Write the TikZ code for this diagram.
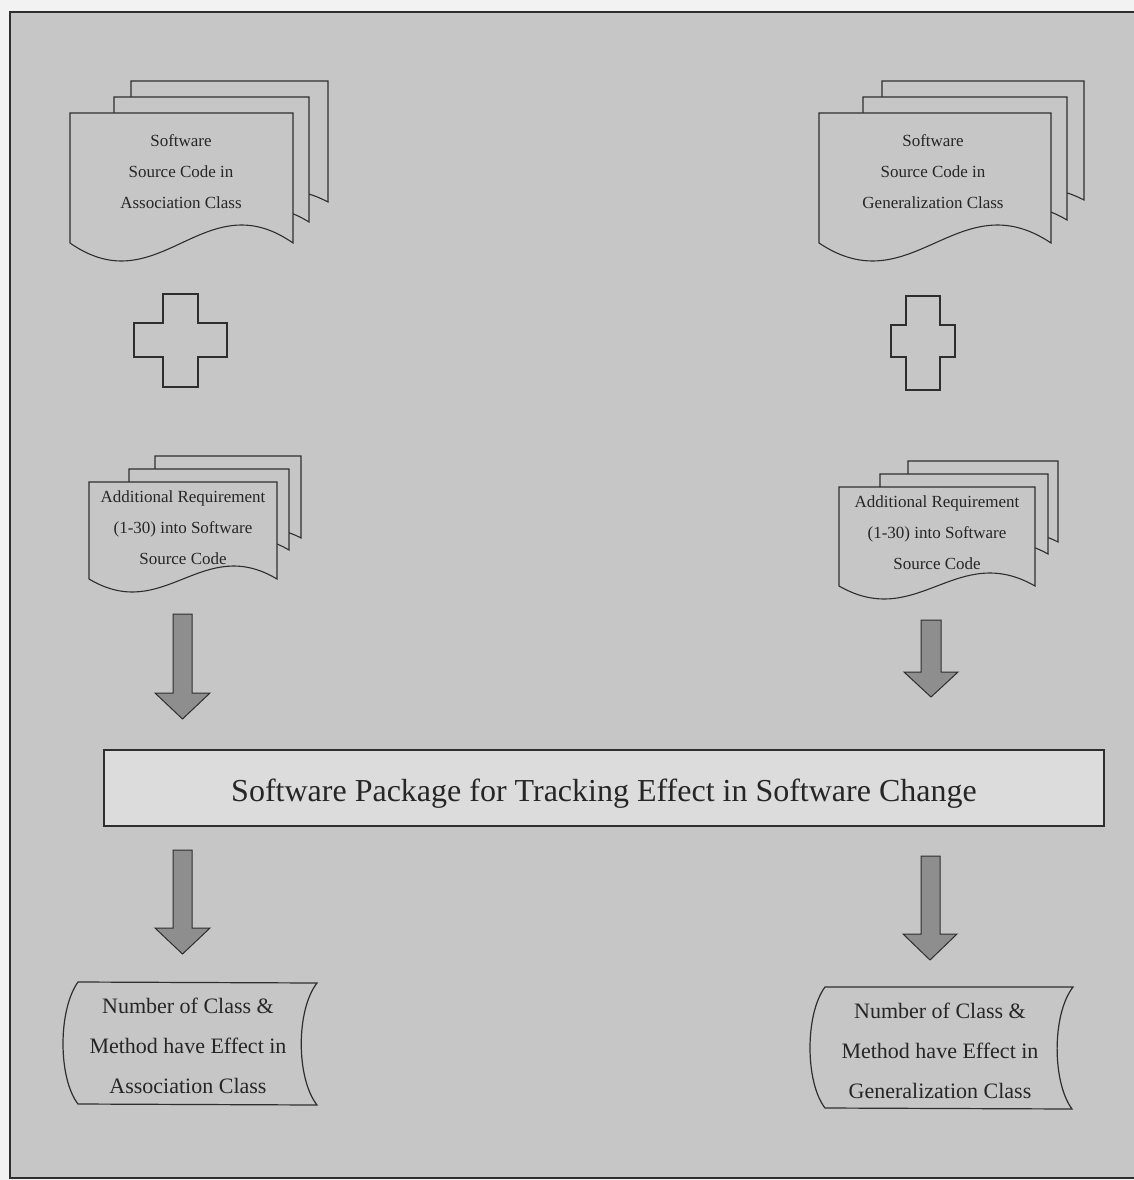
\documentclass[tikz,border=0pt]{standalone}
\usepackage{fontspec}
\setmainfont{Liberation Serif}
\definecolor{bggray}{HTML}{C6C6C6}
\definecolor{boxgray}{HTML}{DCDCDC}
\definecolor{arrgray}{HTML}{8E8E8E}
\definecolor{linegray}{HTML}{2E2E2E}
\tikzset{
  docstyle/.style={fill=bggray, draw=linegray, line width=1.1pt, line join=miter},
  crossstyle/.style={draw=linegray, line width=1.4pt},
  arrstyle/.style={fill=arrgray, draw=linegray, line width=1pt},
  smalltext/.style={align=center, font=\fontsize{17}{31}\selectfont, text=black!85},
  bigtext/.style={align=center, font=\fontsize{22}{40}\selectfont, text=black!85},
  stored/.style={fill=bggray, draw=linegray, line width=1.2pt},
}
% L T R B a
\newcommand{\docpage}[5]{%
  \filldraw[docstyle] (#1,#4) -- (#1,#2) -- (#3,#2) -- (#3,#4)
   .. controls ({#1+0.6*(#3-#1)},{#4-3.46*#5}) and ({#1+0.4*(#3-#1)},{#4+3.46*#5}) .. (#1,#4) -- cycle;}
% shaftL shaftR top base headL headR tip
\newcommand{\blockarrow}[7]{%
  \filldraw[arrstyle] (#1,#3) -- (#2,#3) -- (#2,#4) -- (#6,#4) -- ({(#5+#6)/2},#7) -- (#5,#4) -- (#1,#4) -- cycle;}
% cross: vL vR top bottom hL hR hT hB
\newcommand{\plusshape}[8]{%
  \draw[crossstyle] (#1,#3) -- (#2,#3) -- (#2,#7) -- (#6,#7) -- (#6,#8) -- (#2,#8) -- (#2,#4) -- (#1,#4) -- (#1,#8) -- (#5,#8) -- (#5,#7) -- (#1,#7) -- cycle;}
\begin{document}
\begin{tikzpicture}[x=1pt,y=-1pt]
\useasboundingbox (0,0) rectangle (1134,1180);
\fill[white!95!black] (0,0) rectangle (1134,1180);
\filldraw[fill=bggray, draw=linegray, line width=1.4pt] (10,12) rectangle (1145,1178);

% top-left document stack
\docpage{131}{81}{328}{202}{12}
\docpage{114}{97}{309}{222}{14}
\docpage{70}{113}{293}{243}{18}
\node[smalltext] (srcA) at (181,172) {Software\\Source Code in\\Association Class};

% top-right document stack
\docpage{882}{81}{1084}{200}{12}
\docpage{863}{97}{1067}{220}{14}
\docpage{819}{113}{1051}{243}{18}
\node[smalltext] (srcG) at (933,172) {Software\\Source Code in\\Generalization Class};

% crosses
\plusshape{163}{198}{294}{387}{134}{227}{323}{357}
\plusshape{906}{940}{296}{390}{891}{955}{325}{357}

% additional requirement left
\docpage{155}{456}{301}{538}{9}
\docpage{129}{469}{289}{550}{11}
\docpage{89}{482}{277}{579}{13}
\node[smalltext] (reqA) at (183,528) {Additional Requirement\\(1-30) into Software\\Source Code};

% additional requirement right
\docpage{908}{461}{1058}{542}{9}
\docpage{880}{474}{1048}{554}{11}
\docpage{839}{487}{1035}{586}{13}
\node[smalltext] (reqG) at (937,533) {Additional Requirement\\(1-30) into Software\\Source Code};

% arrows to package
\blockarrow{173}{192}{614}{693}{155}{210}{719}
\blockarrow{921}{941}{620}{672}{904}{958}{697}

% central box
\node[draw=linegray, fill=boxgray, line width=1.2pt, minimum width=1000pt, minimum height=76pt] (pkg) at (604,788) {};
\node[font=\fontsize{32}{38}\selectfont, text=black!85] (pkgtext) at (604,794)
      {Software Package for Tracking Effect in Software Change};

% arrows from package
\blockarrow{173}{192}{850}{928}{155}{210}{954}
\blockarrow{921}{940}{856}{934}{903}{957}{960}

% stored-data result shapes
\filldraw[stored] (78,982) -- (317,983) .. controls (296,1010) and (296,1078) .. (317,1105)
   -- (78,1104) .. controls (58,1078) and (58,1010) .. (78,982) -- cycle;
\node[bigtext] (resA) at (188,1046) {Number of Class \&\\Method have Effect in\\Association Class};

\filldraw[stored] (825,987) -- (1073,987) .. controls (1052,1014) and (1052,1082) .. (1072,1109)
   -- (825,1108) .. controls (805,1082) and (805,1014) .. (825,987) -- cycle;
\node[bigtext] (resG) at (940,1051) {Number of Class \&\\Method have Effect in\\Generalization Class};
\end{tikzpicture}
\end{document}
